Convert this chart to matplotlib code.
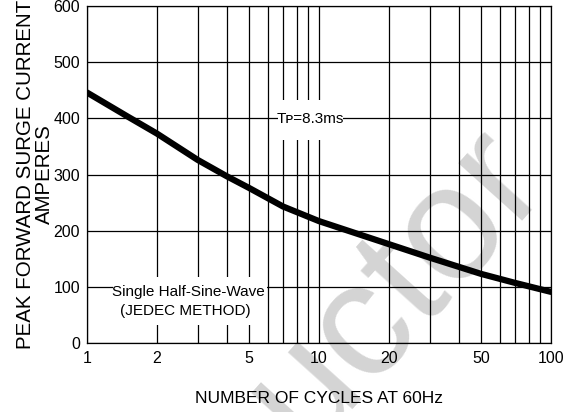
import numpy as np
import matplotlib
matplotlib.use("Agg")
import matplotlib.pyplot as plt
from matplotlib.patches import Rectangle

plt.rcParams['font.family'] = ['Liberation Sans', 'DejaVu Sans']

# surge current curve
cycles = [1, 1.5, 2, 3, 4, 5, 7, 10, 15, 20, 30, 50, 70, 100]
surge_amps = [446, 403, 373, 326, 297, 276, 243, 217, 193, 176, 152, 123, 107, 91]

y_ticks = [0, 100, 200, 300, 400, 500, 600]
x_ticks = [1, 2, 5, 10, 20, 50, 100]
x_tick_labels = ["1", "2", "5", "10", "20", "50", "100"]

fig = plt.figure(figsize=(5.67, 4.12), dpi=100)
ax = fig.add_axes([0.1534, 0.1675, 0.8184, 0.8179])
ax.set_facecolor("none")

ax.set_xscale("log")
ax.set_xlim(1, 100)
ax.set_ylim(0, 600)
ax.set_xticks(x_ticks)
ax.set_xticklabels(x_tick_labels)
ax.set_yticks(y_ticks)
ax.xaxis.set_minor_formatter(matplotlib.ticker.NullFormatter())
ax.tick_params(which="both", length=0, labelsize=11.5, colors="black")
ax.tick_params(axis="x", pad=6)
ax.tick_params(axis="y", pad=5)

ax.grid(True, which="both", axis="x", color="black", lw=0.9)
ax.grid(True, which="major", axis="y", color="black", lw=0.9)
for s in ax.spines.values():
    s.set_linewidth(0.9)

ax.plot(cycles, surge_amps, color="black", lw=4.5, solid_capstyle="round", zorder=5)

# white boxes that blank the grid behind the notes
ax.add_patch(Rectangle((0.4116, 0.602), 0.1401, 0.119, transform=ax.transAxes,
                       facecolor="white", edgecolor="none", zorder=3))
ax.add_patch(Rectangle((0.056, 0.053), 0.332, 0.143, transform=ax.transAxes,
                       facecolor="white", edgecolor="none", zorder=3))

ax.text(0.4806, 0.665, "Tᴘ=8.3ms", transform=ax.transAxes, ha="center", va="center",
        fontsize=11, zorder=4)
ax.text(0.218, 0.151, "Single Half-Sine-Wave", transform=ax.transAxes, ha="center",
        va="center", fontsize=11, zorder=4)
ax.text(0.211, 0.095, "(JEDEC METHOD)", transform=ax.transAxes, ha="center",
        va="center", fontsize=11, zorder=4)

ax.set_xlabel("NUMBER OF CYCLES AT 60Hz", fontsize=12.5, labelpad=18)
ax.set_ylabel("PEAK FORWARD SURGE CURRENT\nAMPERES", fontsize=14.8, linespacing=0.98)
ax.yaxis.set_label_coords(-0.072, 0.5)

# faint watermark behind the chart
fig.text(0.697, 0.303, "uctor", rotation=48, rotation_mode="anchor", ha="center",
         va="center", fontsize=118, color="#d4d4d4", zorder=-1)

fig.savefig("out.png", dpi=100)
